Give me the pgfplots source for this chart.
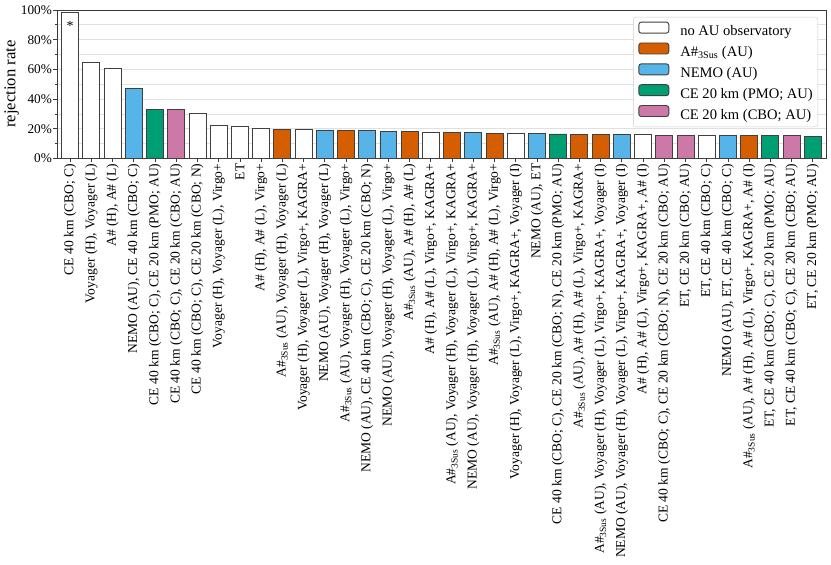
\documentclass[border=0pt]{standalone}
\usepackage{fontspec}
\setmainfont{Liberation Serif}
\usepackage{pgfplots}
\pgfplotsset{compat=1.18}
\definecolor{cborange}{HTML}{D55E00}
\definecolor{cbblue}{HTML}{56B4E9}
\definecolor{cbgreen}{HTML}{009E73}
\definecolor{cbpink}{HTML}{CC79A7}
\definecolor{framegray}{HTML}{3A3A3A}
\definecolor{barline}{HTML}{404040}
\newcommand\Asus{A\#\textsubscript{3Sus}}
\pgfplotsset{
  mybar/.style={ybar, bar width=0.8, bar shift=0pt, draw=barline, line width=0.9bp, fill=#1,
    legend image code/.code={\draw[fill=#1, draw=barline, line width=0.9bp] (0bp,-0.7bp) rectangle (30bp,10.3bp);}},
}
\begin{document}
\begin{tikzpicture}
\path[use as bounding box] (0,0) rectangle (831bp,565bp);
\begin{axis}[
  at={(57bp,406.5bp)}, anchor=south west,
  scale only axis, width=769bp, height=148.5bp,
  xmin=-0.62, xmax=35.62, ymin=0, ymax=100,
  xtick={0,...,35},
  xticklabels={
    {CE 40 km (CBO; C)},
    {Voyager (H), Voyager (L)},
    {A\# (H), A\# (L)},
    {NEMO (AU), CE 40 km (CBO; C)},
    {CE 40 km (CBO; C), CE 20 km (PMO; AU)},
    {CE 40 km (CBO; C), CE 20 km (CBO; AU)},
    {CE 40 km (CBO; C), CE 20 km (CBO; N)},
    {Voyager (H), Voyager (L), Virgo+},
    {ET},
    {A\# (H), A\# (L), Virgo+},
    {\Asus{} (AU), Voyager (H), Voyager (L)},
    {Voyager (H), Voyager (L), Virgo+, KAGRA+},
    {NEMO (AU), Voyager (H), Voyager (L)},
    {\Asus{} (AU), Voyager (H), Voyager (L), Virgo+},
    {NEMO (AU), CE 40 km (CBO; C), CE 20 km (CBO; N)},
    {NEMO (AU), Voyager (H), Voyager (L), Virgo+},
    {\Asus{} (AU), A\# (H), A\# (L)},
    {A\# (H), A\# (L), Virgo+, KAGRA+},
    {\Asus{} (AU), Voyager (H), Voyager (L), Virgo+, KAGRA+},
    {NEMO (AU), Voyager (H), Voyager (L), Virgo+, KAGRA+},
    {\Asus{} (AU), A\# (H), A\# (L), Virgo+},
    {Voyager (H), Voyager (L), Virgo+, KAGRA+, Voyager (I)},
    {NEMO (AU), ET},
    {CE 40 km (CBO; C), CE 20 km (CBO; N), CE 20 km (PMO; AU)},
    {\Asus{} (AU), A\# (H), A\# (L), Virgo+, KAGRA+},
    {\Asus{} (AU), Voyager (H), Voyager (L), Virgo+, KAGRA+, Voyager (I)},
    {NEMO (AU), Voyager (H), Voyager (L), Virgo+, KAGRA+, Voyager (I)},
    {A\# (H), A\# (L), Virgo+, KAGRA+, A\# (I)},
    {CE 40 km (CBO; C), CE 20 km (CBO; N), CE 20 km (CBO; AU)},
    {ET, CE 20 km (CBO; AU)},
    {ET, CE 40 km (CBO; C)},
    {NEMO (AU), ET, CE 40 km (CBO; C)},
    {\Asus{} (AU), A\# (H), A\# (L), Virgo+, KAGRA+, A\# (I)},
    {ET, CE 40 km (CBO; C), CE 20 km (PMO; AU)},
    {ET, CE 40 km (CBO; C), CE 20 km (CBO; AU)},
    {ET, CE 20 km (PMO; AU)}
  },
  x tick label style={rotate=90, anchor=east, font=\fontsize{13.6}{16}\selectfont, inner sep=1.5bp},
  ytick={0,20,...,100},
  yticklabels={0\%,20\%,40\%,60\%,80\%,100\%},
  minor ytick={10,30,...,90},
  y tick label style={font=\fontsize{13.3}{15}\selectfont, inner sep=1.5bp},
  ymajorgrids, yminorgrids,
  grid style={draw=black!12, line width=0.8bp},
  minor grid style={draw=black!12, line width=0.8bp},
  tick align=outside, tick pos=left,
  major tick length=3.5bp, minor tick length=2bp,
  axis line style={draw=framegray, line width=0.8bp},
  every tick/.style={draw=framegray, line width=0.8bp},
  ylabel={rejection rate},
  ylabel style={font=\fontsize{16.7}{19}\selectfont, yshift=-3bp},
  legend style={at={(0.9896,0.9529)}, anchor=north east,
    draw=black!20, fill=white, rounded corners=2.5bp,
    inner xsep=5bp, inner ysep=4.5bp,
    font=\fontsize{14.6}{17}\selectfont,
    row sep=3.6bp,
    nodes={inner sep=0pt, text height=10bp, text depth=3bp},
    /tikz/every odd column/.style={column sep=11bp}},
  legend cell align=left,
]
\addplot[mybar=white] coordinates {(0,98.4) (1,64.5) (2,60.9) (6,30.2) (7,22.0) (8,21.6) (9,20.2) (11,19.5) (17,17.8) (21,16.9) (27,15.9) (30,15.8)};
\addlegendentry{no AU observatory}
\addplot[mybar=cborange] coordinates {(10,19.8) (13,18.7) (16,18.3) (18,17.7) (20,17.1) (24,16.3) (25,16.2) (32,15.4)};
\addlegendentry{\Asus{} (AU)}
\addplot[mybar=cbblue] coordinates {(3,47.3) (12,19.2) (14,18.7) (15,18.4) (19,17.5) (22,16.8) (26,16.0) (31,15.5)};
\addlegendentry{NEMO (AU)}
\addplot[mybar=cbgreen] coordinates {(4,33.1) (23,16.5) (33,15.3) (35,14.7)};
\addlegendentry{CE 20 km (PMO; AU)}
\addplot[mybar=cbpink] coordinates {(5,32.7) (28,15.8) (29,15.8) (34,15.2)};
\addlegendentry{CE 20 km (CBO; AU)}
\node[anchor=north, inner sep=0pt, font=\fontsize{14}{16}\selectfont] at (axis cs:0,92.8) {*};
\end{axis}
\end{tikzpicture}
\end{document}
